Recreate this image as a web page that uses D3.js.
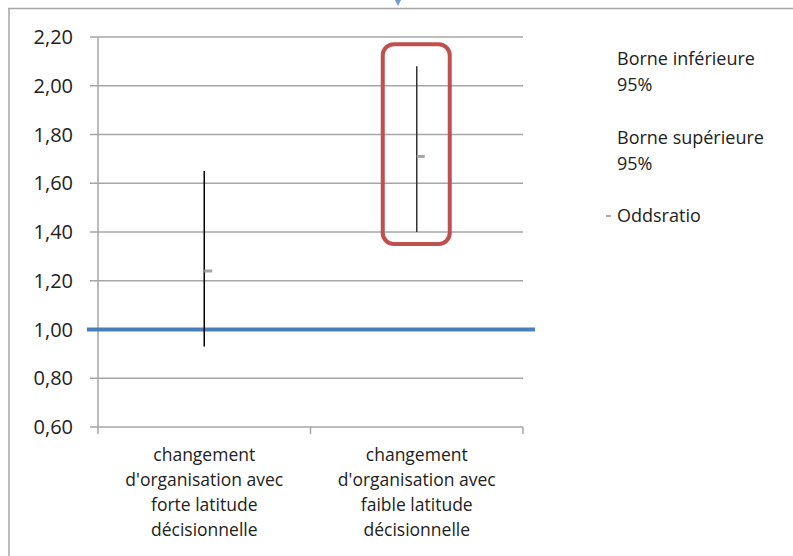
<!DOCTYPE html>
<html lang="fr">
<head>
    <meta charset="UTF-8">
    <title>Odds ratio</title>
    <script src="https://d3js.org/d3.v7.min.js"></script>
    <style>
        body { margin: 0; background: #fff; }
        svg { display: block; font-family: "Open Sans", "Liberation Sans", sans-serif; }
        .grid line { stroke: #a6a6a6; stroke-width: 1.5px; }
        .ytick { font-size: 20px; fill: #222; }
        .cat { font-size: 17.5px; fill: #222; }
        .legend { font-size: 18px; fill: #222; }
    </style>
</head>
<body>
    <svg width="793" height="556"></svg>

    <script>
        // chart data
        const categories = [
            ["changement", "d'organisation avec", "forte latitude", "décisionnelle"],
            ["changement", "d'organisation avec", "faible latitude", "décisionnelle"]
        ];
        const lowerBound = [0.93, 1.40];
        const upperBound = [1.65, 2.08];
        const oddsRatio = [1.24, 1.71];
        const yTicks = [0.6, 0.8, 1.0, 1.2, 1.4, 1.6, 1.8, 2.0, 2.2];
        const refLine = 1.0;
        const legendItems = [
            ["Borne inférieure", "95%"],
            ["Borne supérieure", "95%"],
            ["Oddsratio"]
        ];

        const svg = d3.select("svg");

        // frame of the embedded chart
        svg.append("line").attr("x1", 8).attr("x2", 793).attr("y1", 8.5).attr("y2", 8.5)
            .attr("stroke", "#a6a6a6").attr("stroke-width", 1.5);
        svg.append("line").attr("x1", 9).attr("x2", 9).attr("y1", 8).attr("y2", 556)
            .attr("stroke", "#a6a6a6").attr("stroke-width", 1.5);
        // little anchor marker at top
        svg.append("path").attr("d", "M395,0 L401,0 L398,6 Z").attr("fill", "#4f81bd").attr("opacity", 0.8);

        const plotL = 98, plotR = 523, plotT = 37, plotB = 427;

        const x = d3.scaleBand().domain(d3.range(categories.length)).range([plotL, plotR]);
        const y = d3.scaleLinear().domain([0.6, 2.2]).range([plotB, plotT]);

        // gridlines
        const grid = svg.append("g").attr("class", "grid");
        grid.selectAll("line").data(yTicks).enter().append("line")
            .attr("x1", plotL - 8).attr("x2", plotR)
            .attr("y1", d => y(d)).attr("y2", d => y(d));

        // axes lines
        svg.append("line").attr("x1", plotL).attr("x2", plotL).attr("y1", plotT).attr("y2", plotB)
            .attr("stroke", "#a6a6a6").attr("stroke-width", 1.5);
        const xTicks = d3.range(categories.length + 1).map(i => i < categories.length ? x(i) : plotR);
        svg.selectAll(".xtick").data(xTicks).enter().append("line")
            .attr("class", "xtick")
            .attr("x1", d => d).attr("x2", d => d)
            .attr("y1", plotB).attr("y2", plotB + 7)
            .attr("stroke", "#a6a6a6").attr("stroke-width", 1.5);

        // y labels
        svg.selectAll(".ytick").data(yTicks).enter().append("text")
            .attr("class", "ytick")
            .attr("x", 73).attr("y", d => y(d)).attr("dy", "0.35em")
            .attr("text-anchor", "end")
            .text(d => d3.format(".2f")(d).replace(".", ","));

        // category labels
        const cat = svg.selectAll(".cat").data(categories).enter().append("text")
            .attr("class", "cat")
            .attr("text-anchor", "middle")
            .attr("transform", (d, i) => `translate(${x(i) + x.bandwidth() / 2},${plotB + 34})`);
        cat.selectAll("tspan").data(d => d).enter().append("tspan")
            .attr("x", 0).attr("y", (d, i) => i * 25)
            .text(d => d);

        // reference line at 1
        svg.append("line").attr("x1", 87).attr("x2", 535)
            .attr("y1", y(refLine)).attr("y2", y(refLine))
            .attr("stroke", "#4a7ebb").attr("stroke-width", 4);

        // whiskers
        const cx = i => x(i) + x.bandwidth() / 2;
        svg.selectAll(".whisker").data(lowerBound).enter().append("line")
            .attr("class", "whisker")
            .attr("x1", (d, i) => cx(i)).attr("x2", (d, i) => cx(i))
            .attr("y1", d => y(d)).attr("y2", (d, i) => y(upperBound[i]))
            .attr("stroke", (d, i) => i === 0 ? "#000" : "#333").attr("stroke-width", 1.5);

        // odds ratio marks
        svg.selectAll(".or").data(oddsRatio).enter().append("rect")
            .attr("class", "or")
            .attr("x", (d, i) => cx(i)).attr("y", d => y(d) - 1.5)
            .attr("width", 8).attr("height", 3)
            .attr("fill", "#a6a6a6");

        // highlight box around second category
        const pad = 32;
        svg.append("rect")
            .attr("x", cx(1) - pad - 2).attr("width", 2 * pad + 3)
            .attr("y", y(upperBound[1]) - 22).attr("height", y(lowerBound[1]) - y(upperBound[1]) + 34)
            .attr("rx", 11).attr("ry", 11)
            .attr("fill", "none").attr("stroke", "#c0504d").attr("stroke-width", 4);

        // legend
        const legendY = [59, 138, 216];
        legendItems.forEach((lines, k) => {
            const t = svg.append("text").attr("class", "legend")
                .attr("x", 617).attr("y", legendY[k]).attr("dy", "0.35em");
            lines.forEach((l, j) => {
                t.append("tspan").attr("x", 617).attr("y", legendY[k] + j * 26).attr("dy", "0.35em").text(l);
            });
        });
        svg.append("rect").attr("x", 606).attr("y", legendY[2] - 1).attr("width", 5).attr("height", 2)
            .attr("fill", "#a6a6a6");
    </script>
</body>
</html>
